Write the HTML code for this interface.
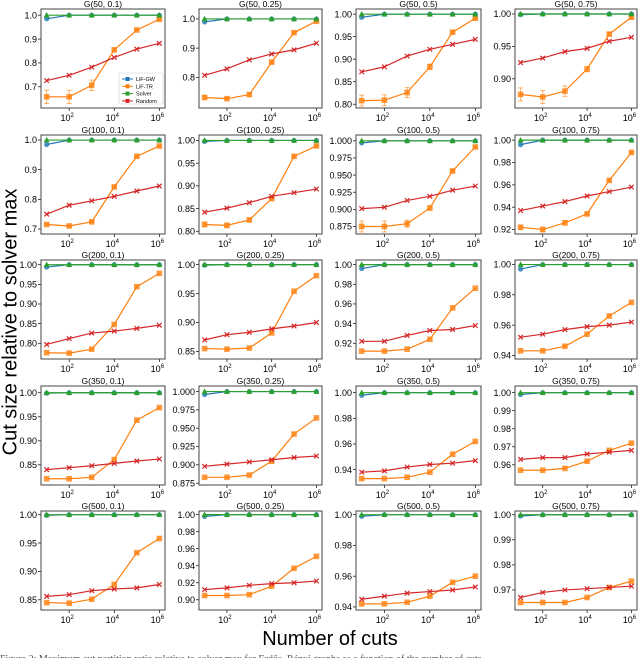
<!DOCTYPE html>
<html><head><meta charset="utf-8"><style>
html,body{margin:0;padding:0;background:#fff;}
svg{display:block;font-family:"Liberation Sans",sans-serif;}
</style></head><body>
<svg id="fig" width="640" height="658" viewBox="0 0 640 658">
<text x="11" y="322" font-size="20" text-anchor="middle" transform="rotate(-90 11 322)" dominant-baseline="middle">Cut size relative to solver max</text>
<text x="330" y="645" font-size="20" text-anchor="middle">Number of cuts</text>
<text x="0" y="662" font-size="10" fill="#555" font-family="Liberation Serif, serif">Figure 2: Maximum cut partition ratio relative to solver max for Erdős–Rényi graphs as a function of the number of cuts</text>
<g id="panels"></g>
</svg>
<script>
const xExp = [1,2,3,4,5,6];
const titles = ["G(50, 0.1)","G(50, 0.25)","G(50, 0.5)","G(50, 0.75)","G(100, 0.1)","G(100, 0.25)","G(100, 0.5)","G(100, 0.75)","G(200, 0.1)","G(200, 0.25)","G(200, 0.5)","G(200, 0.75)","G(350, 0.1)","G(350, 0.25)","G(350, 0.5)","G(350, 0.75)","G(500, 0.1)","G(500, 0.25)","G(500, 0.5)","G(500, 0.75)"];
const gw = [
[.985,1,1,1,1,1],[.99,1,1,1,1,1],[.993,1,1,1,1,1],[.999,1,1,1,1,1],
[.985,1,1,1,1,1],[.998,1,1,1,1,1],[.997,1,1,1,1,1],[.996,1,1,1,1,1],
[.994,1,1,1,1,1],[.999,1,1,1,1,1],[.996,1,1,1,1,1],[.997,1,1,1,1,1],
[.999,1,1,1,1,1],[.996,1,1,1,1,1],[.998,1,1,1,1,1],[.999,1,1,1,1,1],
[.999,1,1,1,1,1],[.998,1,1,1,1,1],[.999,1,1,1,1,1],[.9995,1,1,1,1,1]];
const tr = [
[.658,.658,.706,.855,.938,.983],[.731,.727,.741,.852,.953,.992],[.808,.809,.826,.883,.960,.991],[.876,.872,.881,.915,.969,.995],
[.715,.710,.724,.842,.945,.980],[.815,.813,.825,.872,.965,.988],[.875,.875,.879,.902,.956,.991],[.922,.920,.926,.934,.964,.989],
[.776,.775,.785,.848,.944,.978],[.855,.854,.856,.882,.954,.981],[.912,.912,.914,.924,.956,.976],[.943,.943,.946,.954,.966,.975],
[.821,.821,.824,.861,.943,.969],[.883,.883,.886,.905,.942,.964],[.933,.933,.934,.938,.952,.962],[.957,.957,.958,.962,.968,.972],
[.845,.844,.851,.877,.933,.958],[.905,.905,.906,.916,.937,.951],[.942,.942,.943,.947,.956,.960],[.965,.965,.965,.967,.971,.9735]];
const trErr = [
[.028,.028,.022,.006,.004,.003],[.006,.005,.006,.004,.003,.002],[.012,.012,.011,.006,.003,.002],[.010,.010,.008,.004,.002,.002],
[.004,.003,.003,.003,.002,.002],[.005,.005,.004,.003,.002,.002],[.008,.008,.005,.003,.002,.001],[.002,.002,.002,.001,.001,.001],
[0,0,0,0,0,0],[0,0,0,0,0,0],[0,0,0,0,0,0],[0,0,0,0,0,0],
[0,0,0,0,0,0],[0,0,0,0,0,0],[0,0,0,0,0,0],[0,0,0,0,0,0],
[0,0,0,0,0,0],[0,0,0,0,0,0],[0,0,0,0,0,0],[0,0,0,0,0,0]];
const solver = [1,1,1,1,1,1];
const rnd = [
[.726,.748,.782,.823,.858,.882],[.807,.829,.860,.880,.894,.917],[.872,.883,.907,.922,.933,.944],[.925,.932,.942,.947,.958,.964],
[.750,.780,.795,.810,.828,.845],[.842,.851,.863,.877,.885,.893],[.901,.903,.913,.919,.928,.934],[.937,.941,.945,.950,.954,.958],
[.797,.812,.826,.831,.838,.846],[.870,.879,.883,.889,.894,.900],[.922,.922,.928,.933,.934,.938],[.952,.954,.957,.959,.960,.962],
[.840,.844,.848,.853,.858,.862],[.898,.901,.904,.907,.910,.912],[.938,.939,.942,.944,.945,.947],[.963,.964,.964,.966,.967,.968],
[.856,.859,.866,.869,.871,.877],[.912,.914,.917,.919,.920,.922],[.945,.947,.949,.950,.951,.953],[.967,.969,.970,.9705,.971,.9715]];
const yLo = [.611,.695,.7916,.855,.683,.794,.864,.916,.760,.837,.904,.9376,.808,.8725,.928,.9488,.832,.888,.938,.962];
const yHi = [1.026,1.034,1.0115,1.0077,1.017,1.012,1.0085,1.0046,1.012,1.008,1.0047,1.003,1.014,1.0076,1.0052,1.0037,1.0065,1.0043,1.0024,1.0015];
const yTicks = [
[.7,.8,.9,1.0],[.8,.9,1.0],[.80,.85,.90,.95,1.00],[.90,.95,1.00],
[.7,.8,.9,1.0],[.80,.85,.90,.95,1.00],[.875,.900,.925,.950,.975,1.000],[.92,.94,.96,.98,1.00],
[.80,.85,.90,.95,1.00],[.85,.90,.95,1.00],[.92,.94,.96,.98,1.00],[.94,.96,.98,1.00],
[.85,.90,.95,1.00],[.875,.900,.925,.950,.975,1.000],[.94,.96,.98,1.00],[.96,.97,.98,.99,1.00],
[.85,.90,.95,1.00],[.90,.92,.94,.96,.98,1.00],[.94,.96,.98,1.00],[.97,.98,.99,1.00]];
const yDec = [1,1,2,2,1,2,3,2,2,2,2,2,2,3,2,2,2,2,2,2];
const xTickExp = [2,4,6];

const NS = "http://www.w3.org/2000/svg";
const colL = [41,199,356,515], colR = [165,322,481,637];
const rowT = [9,135,260,386,511], PH = 99;
const C = {gw:"#1f77b4", tr:"#ff7f0e", sv:"#2ca02c", rd:"#d62728"};
const root = document.getElementById("panels");
function mk(tag, attrs, parent){const e=document.createElementNS(NS,tag);for(const k in attrs)e.setAttribute(k,attrs[k]);parent.appendChild(e);return e;}

titles.forEach((t,i)=>{
  const r=Math.floor(i/4), c=i%4;
  const L=colL[c], R=colR[c], T=rowT[r], B=T+PH;
  const g=mk("g",{},root);
  
  
  const xs=v=>L+(v-0.75)/(6.25-0.75)*(R-L);
  const ys=v=>B-(v-yLo[i])/(yHi[i]-yLo[i])*PH;
  const ttl=mk("text",{x:(L+R)/2,y:T-2,"font-size":8.5,"text-anchor":"middle"},g);
  ttl.textContent=t;
  
  
  yTicks[i].forEach(v=>{
    const y=ys(v);
    mk("line",{x1:L-3,x2:L,y1:y,y2:y,stroke:"#000","stroke-width":0.7},g);
    const tx=mk("text",{x:L-4,y:y+3.2,"font-size":9,"text-anchor":"end"},g);
    tx.textContent=v.toFixed(yDec[i]);
    
    
  });
  xTickExp.forEach(e=>{
    const x=xs(e);
    mk("line",{x1:x,x2:x,y1:B,y2:B+3,stroke:"#000","stroke-width":0.7},g);
    const tx=mk("text",{x:x-2,y:B+13,"font-size":9,"text-anchor":"middle"},g);
    tx.textContent="10";
    const sp=mk("tspan",{dy:-4,"font-size":6},tx);sp.textContent=String(e);
    
    
  });
  function series(vals,col,marker,name,err){
    const sg=mk("g",{},g);
    
    
    mk("polyline",{points:vals.map((v,k)=>xs(xExp[k])+","+ys(v)).join(" "),fill:"none",stroke:col,"stroke-width":1.2},sg);
    vals.forEach((v,k)=>{
      const x=xs(xExp[k]), y=ys(v);
      if(err&&err[k]>0){
        const y1=ys(v+err[k]), y2=ys(v-err[k]);
        mk("line",{x1:x,x2:x,y1:y1,y2:y2,stroke:col,"stroke-width":1,opacity:0.6},sg);
        mk("line",{x1:x-2.5,x2:x+2.5,y1:y1,y2:y1,stroke:col,"stroke-width":1,opacity:0.6},sg);
        mk("line",{x1:x-2.5,x2:x+2.5,y1:y2,y2:y2,stroke:col,"stroke-width":1,opacity:0.6},sg);
      }
      if(marker==="o") mk("circle",{cx:x,cy:y,r:2.6,fill:col,opacity:0.8},sg);
      else if(marker==="s") mk("rect",{x:x-2.8,y:y-2.8,width:5.6,height:5.6,fill:col,opacity:0.8},sg);
      else if(marker==="^") mk("polygon",{points:`${x},${y-3.2} ${x-3},${y+2.3} ${x+3},${y+2.3}`,fill:col},sg);
      else {mk("path",{d:`M${x-2.3},${y-2.3}L${x+2.3},${y+2.3}M${x-2.3},${y+2.3}L${x+2.3},${y-2.3}`,stroke:col,"stroke-width":1.2},sg);}
    });
  }
  series(gw[i],C.gw,"o","series-lif-gw");
  series(tr[i],C.tr,"s","series-lif-tr",trErr[i]);
  series(solver,C.sv,"^","series-solver");
  series(rnd[i],C.rd,"x","series-random");
  const box=mk("rect",{x:L,y:T,width:R-L,height:PH,fill:"none",stroke:"#444","stroke-width":1},g);
  
  
  if(i===0){
    const lg=mk("g",{},g);
    
    
    mk("rect",{x:119,y:73,width:44,height:31,fill:"#fff",stroke:"#ccc","stroke-width":0.6,rx:1.5},lg);
    const names=["LiF-GW","LiF-TR","Solver","Random"], cols=[C.gw,C.tr,C.sv,C.rd];
    names.forEach((n,k)=>{
      const y=79+k*7.3;
      const e=mk("g",{},lg);
      
      
      mk("line",{x1:122,x2:133,y1:y,y2:y,stroke:cols[k],"stroke-width":1},e);
      mk("rect",{x:125.5,y:y-2,width:4,height:4,fill:cols[k]},e);
      const tx=mk("text",{x:136,y:y+2,"font-size":5.5},e);tx.textContent=n;
    });
  }
});
</script>
</body></html>
